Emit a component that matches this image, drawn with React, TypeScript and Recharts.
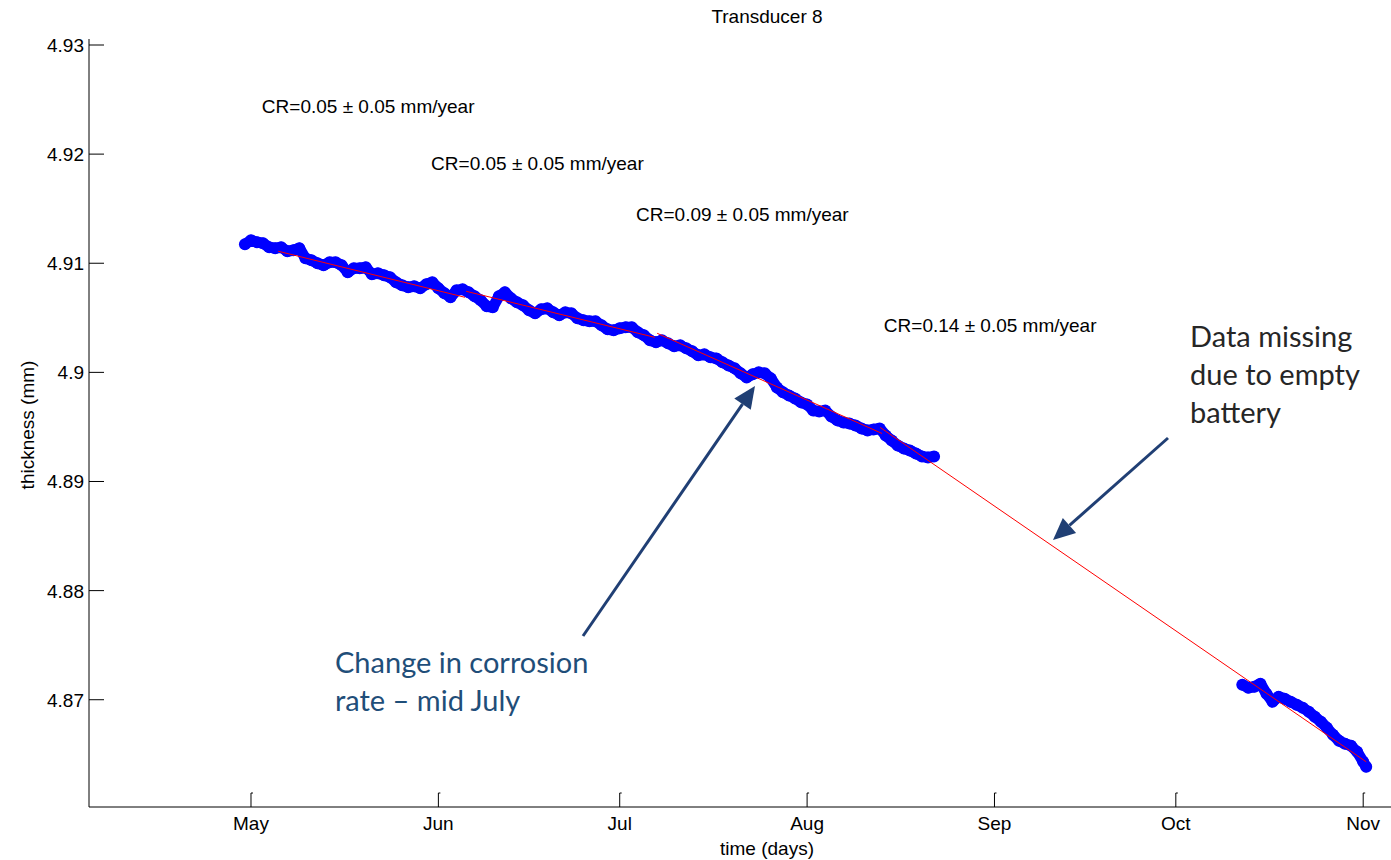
import { ComposedChart, Scatter, XAxis, YAxis, ReferenceDot, Label } from 'recharts';

// days counted from 1 May, thickness in mm
const beforeOutage: [number, number][] = [
  [-1, 4.91174], [0, 4.91211], [1, 4.91193], [2, 4.91183], [3, 4.91147], [4, 4.91138],
  [5, 4.91147], [6, 4.9111], [7, 4.91119], [8, 4.91138], [9, 4.91046], [10, 4.91028],
  [11, 4.91], [12, 4.90982], [13, 4.91009], [14, 4.91009], [15, 4.90982], [16, 4.90917],
  [17, 4.90954], [18, 4.90954], [19, 4.90963], [20, 4.90899], [21, 4.90908], [22, 4.9089],
  [23, 4.90872], [24, 4.90826], [25, 4.90798], [26, 4.9078], [27, 4.90789], [28, 4.90771],
  [29, 4.90807], [30, 4.90826], [31, 4.90771], [32, 4.90725], [33, 4.90688], [34, 4.90752],
  [35, 4.90761], [36, 4.90734], [37, 4.90697], [38, 4.90661], [39, 4.90606], [40, 4.90596],
  [41, 4.90697], [42, 4.90734], [43, 4.90679], [44, 4.90642], [45, 4.90615], [46, 4.90569],
  [47, 4.90541], [48, 4.90578], [49, 4.90587], [50, 4.9055], [51, 4.90523], [52, 4.9055],
  [53, 4.90541], [54, 4.90495], [55, 4.90477], [56, 4.90468], [57, 4.90468], [58, 4.90431],
  [59, 4.90394], [60, 4.90385], [61, 4.90404], [62, 4.90413], [63, 4.90413], [64, 4.90367],
  [65, 4.9034], [66, 4.90294], [67, 4.90275], [68, 4.90294], [69, 4.90266], [70, 4.90239],
  [71, 4.90248], [72, 4.9022], [73, 4.90193], [74, 4.90156], [75, 4.90165], [76, 4.90138],
  [77, 4.90128], [78, 4.90092], [79, 4.90064], [80, 4.90037], [81, 4.89991], [82, 4.89954],
  [83, 4.89982], [84, 4.9], [85, 4.89991], [86, 4.89945], [87, 4.89862], [88, 4.89817],
  [89, 4.89789], [90, 4.89761], [91, 4.89725], [92, 4.89706], [93, 4.89651], [94, 4.89642],
  [95, 4.89651], [96, 4.89596], [97, 4.8956], [98, 4.89541], [99, 4.89532], [100, 4.89514],
  [101, 4.89486], [102, 4.89468], [103, 4.89477], [104, 4.89486], [105, 4.89422], [106, 4.89376],
  [107, 4.8933], [108, 4.89303], [109, 4.89284], [110, 4.89257], [111, 4.8923], [112, 4.8922],
  [113, 4.8923],
];

const afterOutage: [number, number][] = [
  [164, 4.87138], [165, 4.8711], [166, 4.87119], [167, 4.87147], [168, 4.87055], [169, 4.86982],
  [170, 4.87028], [171, 4.87009], [172, 4.86982], [173, 4.86954], [174, 4.86927], [175, 4.8689],
  [176, 4.86844], [177, 4.86798], [178, 4.86743], [179, 4.86679], [180, 4.86624], [181, 4.86596],
  [182, 4.86578], [183, 4.86523], [184, 4.86431], [184.5, 4.86385],
];

// linear fits, start and end point of each
const fitMay: [number, number][] = [[4.5, 4.9111], [35.4, 4.90688]];
const fitJune: [number, number][] = [[35.6, 4.90743], [66.8, 4.90321]];
const fitJuly: [number, number][] = [[67.2, 4.90358], [104.4, 4.8944]];
const fitLate: [number, number][] = [[104.1, 4.89495], [184.5, 4.86431]];

const crRates = ['0.05', '0.05', '0.09', '0.14'];
const crDays = [1.8, 29.8, 63.7, 104.7];
const crLevels = [4.9244, 4.91917, 4.9145, 4.90431];

const monthTicks = [0, 31, 61, 92, 123, 153, 184];
const monthNames = ['May', 'Jun', 'Jul', 'Aug', 'Sep', 'Oct', 'Nov'];
const thicknessTicks = [4.87, 4.88, 4.89, 4.9, 4.91, 4.92, 4.93];

const toRows = (pts: [number, number][]) => pts.map(([day, v]) => ({ day, v }));

const BLUE = '#0000ff';
const NAVY = '#203f74';
const FS = 19;

const Dot = (p: any) => <circle cx={p.cx} cy={p.cy} r={6} fill={BLUE} />;
const NoDot = () => <g />;

const XTick = ({ x, y, payload }: any) => (
  <g>
    <line x1={x} x2={x} y1={y} y2={y - 14} stroke="#000" />
    <line x1={x} x2={x + 2} y1={y - 14} y2={y - 14} stroke="#000" />
    <text x={x} y={y + 23} textAnchor="middle" fontSize={FS} fill="#000">
      {monthNames[monthTicks.indexOf(payload.value)]}
    </text>
  </g>
);

const YTick = ({ x, y, payload }: any) => (
  <g>
    <line x1={x} x2={x + 15} y1={y} y2={y} stroke="#000" />
    <text x={x - 5} y={y + 7} textAnchor="end" fontSize={FS} fill="#000">
      {String(payload.value)}
    </text>
  </g>
);

function Arrow({ x1, y1, x2, y2 }: { x1: number; y1: number; x2: number; y2: number }) {
  const a = Math.atan2(y2 - y1, x2 - x1);
  const len = 22;
  const half = 10;
  const bx = x2 - len * Math.cos(a);
  const by = y2 - len * Math.sin(a);
  const px = -Math.sin(a) * half;
  const py = Math.cos(a) * half;
  return (
    <g>
      <line x1={x1} y1={y1} x2={bx} y2={by} stroke={NAVY} strokeWidth={3} />
      <polygon points={`${x2},${y2} ${bx + px},${by + py} ${bx - px},${by - py}`} fill={NAVY} />
    </g>
  );
}

export default function App() {
  return (
    <div
      style={{
        position: 'absolute',
        left: 0,
        top: 0,
        width: 1391,
        height: 860,
        background: '#fff',
        fontFamily: '"Liberation Sans", Arial, Helvetica, sans-serif',
      }}
    >
      <ComposedChart width={1391} height={860} margin={{ top: 39, right: 0, bottom: 0, left: 0 }}>
        <XAxis
          type="number"
          dataKey="day"
          domain={[-26.8, 188.6]}
          allowDataOverflow
          ticks={monthTicks}
          interval={0}
          height={53}
          tickSize={0}
          tickMargin={0}
          tickLine={false}
          tick={<XTick />}
          stroke="#000"
        >
          <Label
            content={() => (
              <text x={767} y={855} textAnchor="middle" fontSize={FS} fill="#000">
                time (days)
              </text>
            )}
          />
        </XAxis>
        <YAxis
          type="number"
          dataKey="v"
          domain={[4.86017, 4.93055]}
          allowDataOverflow
          ticks={thicknessTicks}
          interval={0}
          width={89}
          tickSize={0}
          tickMargin={0}
          tickLine={false}
          tick={<YTick />}
          stroke="#000"
        >
          <Label
            content={() => (
              <text x={34} y={425} transform="rotate(-90 34 425)" textAnchor="middle" fontSize={FS} fill="#000">
                thickness (mm)
              </text>
            )}
          />
        </YAxis>
        <Scatter
          data={toRows(beforeOutage)}
          dataKey="v"
          fill={BLUE}
          shape={<Dot />}
          line={{ stroke: BLUE, strokeWidth: 11, strokeLinejoin: 'round', strokeLinecap: 'round' }}
          isAnimationActive={false}
        />
        <Scatter
          data={toRows(afterOutage)}
          dataKey="v"
          fill={BLUE}
          shape={<Dot />}
          line={{ stroke: BLUE, strokeWidth: 11, strokeLinejoin: 'round', strokeLinecap: 'round' }}
          isAnimationActive={false}
        />
        {[fitMay, fitJune, fitJuly, fitLate].map((fit, i) => (
          <Scatter
            key={`fit-${i}`}
            data={toRows(fit)}
            dataKey="v"
            fill="#ff0000"
            shape={<NoDot />}
            line={{ stroke: '#ff0000', strokeWidth: 1 }}
            isAnimationActive={false}
          />
        ))}
        {crRates.map((rate, i) => (
          <ReferenceDot
            key={`cr-${i}`}
            x={crDays[i]}
            y={crLevels[i]}
            r={0}
            fill="none"
            stroke="none"
            label={{
              value: `CR=${rate} \u00b1 0.05 mm/year`,
              position: 'right',
              offset: 0,
              fontSize: FS,
              fill: '#000',
            }}
          />
        ))}
      </ComposedChart>
      <svg
        width={1391}
        height={860}
        style={{ position: 'absolute', left: 0, top: 0, pointerEvents: 'none' }}
      >
        <text x={767} y={23} textAnchor="middle" fontSize={FS} fill="#000">
          Transducer 8
        </text>
        <Arrow x1={583} y1={636} x2={755} y2={386} />
        <Arrow x1={1168} y1={438} x2={1053} y2={540} />
        <g fontFamily="Lato, 'Open Sans', sans-serif" fontSize={29}>
          <text x={335} y={673} fill="#1f4e79">Change in corrosion</text>
          <text x={335} y={711} fill="#1f4e79">rate – mid July</text>
          <text x={1190} y={347} fill="#262626">Data missing</text>
          <text x={1190} y={385} fill="#262626">due to empty</text>
          <text x={1190} y={423} fill="#262626">battery</text>
        </g>
      </svg>
    </div>
  );
}
